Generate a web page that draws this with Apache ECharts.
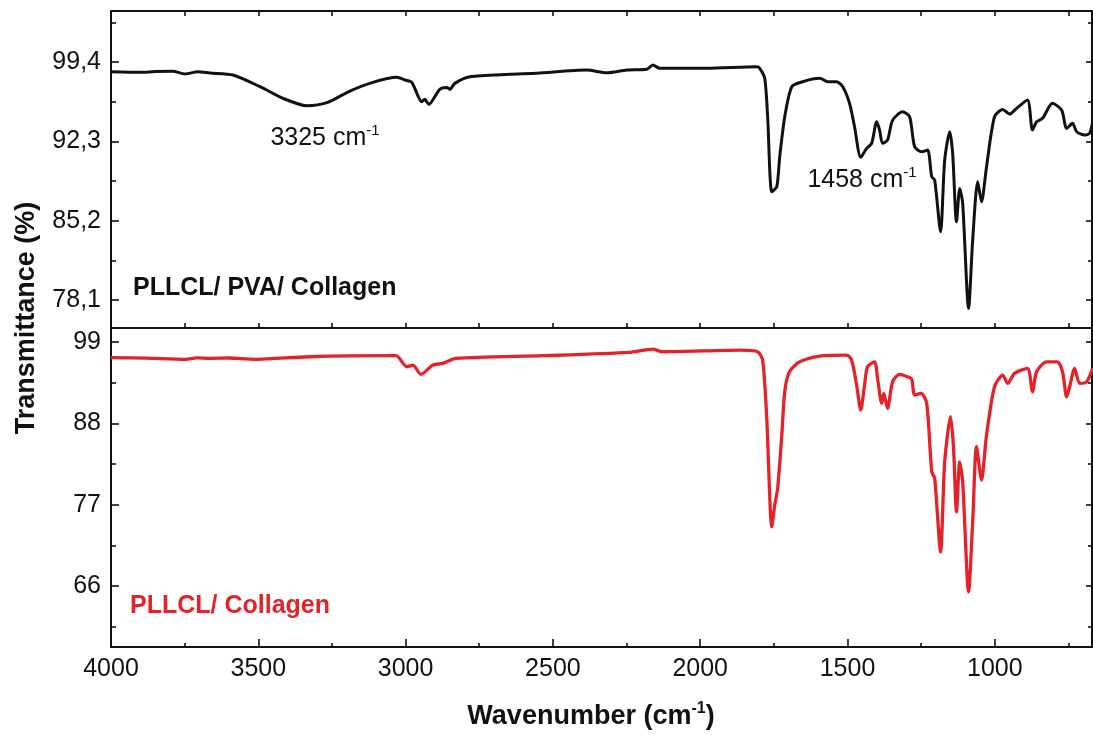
<!DOCTYPE html>
<html><head><meta charset="utf-8">
<script src="https://cdn.jsdelivr.net/npm/echarts@6/dist/echarts.min.js"></script>
<style>html,body{margin:0;padding:0;background:#fff}#c{width:1093px;height:738px}</style>
</head><body><div id="c"></div>
<script>
// PLLCL/ PVA/ Collagen (black)
const wnTop = [4000,3900,3850,3790,3749,3705,3664,3586,3494,3416,3335,3267,3189,3111,3030,3002,2979,2945,2935,2921,2884,2860,2850,2833,2782,2646,2555,2385,2317,2249,2181,2161,2137,2046,1978,1808,1798,1781,1771,1757,1740,1730,1713,1689,1652,1594,1567,1537,1516,1493,1476,1455,1435,1418,1401,1391,1381,1364,1347,1313,1289,1272,1248,1228,1214,1204,1184,1170,1153,1143,1130,1119,1109,1089,1075,1058,1045,1028,1001,973,950,926,889,872,858,838,804,773,756,736,722,695,678,668];
const tTop = [98.53,98.48,98.55,98.57,98.33,98.53,98.42,98.24,97.19,96.15,95.49,95.76,96.80,97.58,98.03,97.79,97.58,95.85,96.06,95.61,96.96,97.13,96.96,97.49,98.08,98.30,98.39,98.68,98.44,98.68,98.75,99.13,98.84,98.84,98.84,98.98,98.84,97.94,94.50,87.79,88.24,90.92,94.50,97.19,97.64,97.94,97.64,97.64,97.19,95.70,93.61,90.87,91.67,92.12,94.05,93.31,92.12,92.42,94.18,94.95,94.50,91.82,91.37,91.52,89.13,88.84,84.21,90.63,93.16,91.22,85.10,88.09,86.75,77.35,83.46,88.68,86.89,90.03,94.50,95.16,94.74,95.25,96.00,93.31,94.05,94.36,95.70,95.10,93.46,93.91,93.16,92.86,93.02,94.0];
// PLLCL/ Collagen (red)
const wnBot = [4000,3880,3746,3708,3664,3600,3511,3328,3033,2996,2975,2948,2907,2874,2829,2534,2242,2161,2130,1859,1805,1788,1774,1757,1747,1737,1723,1713,1697,1662,1594,1503,1486,1469,1455,1442,1432,1408,1398,1384,1377,1364,1347,1323,1296,1282,1272,1250,1231,1214,1204,1184,1170,1150,1140,1130,1119,1109,1089,1075,1062,1045,1028,1001,973,956,933,889,872,858,824,787,770,756,746,729,712,688,668];
const tBot = [96.88,96.82,96.66,96.86,96.80,96.84,96.66,97.01,97.15,95.66,95.89,94.63,95.89,96.11,96.79,97.15,97.60,98.05,97.69,97.92,97.69,96.56,88.67,74.01,76.94,79.20,86.42,92.28,94.98,96.33,97.11,97.24,96.56,93.18,89.80,93.18,95.66,96.33,94.09,90.70,92.06,90.03,93.63,94.63,94.30,94.00,91.83,92.06,90.70,81.45,80.55,70.62,82.80,88.90,84.62,76.04,82.80,80.10,65.21,74.68,84.84,80.33,86.42,92.95,94.53,93.41,94.76,95.44,92.28,94.98,96.33,96.33,94.98,91.60,92.95,95.44,93.41,93.63,95.44];

const xMajor = [1000,1500,2000,2500,3000,3500,4000];
const xMinor = [750,1250,1750,2250,2750,3250,3750];
const xAll = [750,1000,1250,1500,1750,2000,2250,2500,2750,3000,3250,3500,3750,4000];
const yTopMajor = [78.1,85.2,92.3,99.4];
const yTopMinor = [81.65,88.75,95.85,102.95];
const yBotMajor = [66,77,88,99];
const yBotMinor = [60.5,71.5,82.5,93.5];

const X_MIN = 670, X_MAX = 4000;
const TOP_MIN = 75.59, TOP_MAX = 103.97;
const BOT_MIN = 57.75, BOT_MAX = 100.9;

const INK = '#111111';
const RED = '#e4222a';
const FONT = '"Liberation Sans", Arial, sans-serif';
const lineStyle = {color: INK, width: 2};

const fmtX = v => String(Math.round(v));
function xAx(grid, pos, o) {
  return {
    type: 'value', gridIndex: grid, position: pos, inverse: true, min: X_MIN, max: X_MAX,
    axisLine: {show: o.line !== false, onZero: false, lineStyle},
    axisTick: o.ticks ? {show: true, inside: true, length: o.len, customValues: o.ticks, lineStyle: {color: INK, width: 1.6}} : {show: false},
    axisLabel: o.labels ? {show: true, customValues: o.labels, margin: 10, color: '#111', fontSize: 25, fontFamily: FONT, formatter: fmtX} : {show: false},
    splitLine: {show: false}
  };
}
function yAx(grid, pos, min, max, o) {
  return {
    type: 'value', gridIndex: grid, position: pos, min: min, max: max,
    axisLine: {show: o.line !== false, onZero: false, lineStyle},
    axisTick: {show: true, inside: true, length: o.len, customValues: o.ticks, lineStyle: {color: INK, width: 1.6}},
    axisLabel: o.labels ? {show: true, customValues: o.labels, margin: 10, color: '#111', fontSize: 25, fontFamily: FONT, formatter: o.fmt} : {show: false},
    splitLine: {show: false}
  };
}
const fmtTop = v => Number(v).toFixed(1).replace('.', ',');
const fmtBot = v => String(Math.round(v));

const chart = echarts.init(document.getElementById('c'), null, {renderer: 'canvas'});
chart.setOption({
  animation: false,
  backgroundColor: '#fff',
  grid: [
    {left: 111, right: 1, top: 11, height: 317},
    {left: 111, right: 1, top: 328, height: 319}
  ],
  xAxis: [
    xAx(0, 'bottom', {ticks: xAll, len: 5}),
    xAx(0, 'top', {ticks: xAll, len: 5}),
    xAx(1, 'bottom', {ticks: xMajor, len: 8, labels: xMajor}),
    xAx(1, 'bottom', {ticks: xMinor, len: 4, line: false}),
    xAx(1, 'top', {})
  ],
  yAxis: [
    yAx(0, 'left', TOP_MIN, TOP_MAX, {ticks: yTopMajor, len: 8, labels: yTopMajor, fmt: fmtTop}),
    yAx(0, 'left', TOP_MIN, TOP_MAX, {ticks: yTopMinor, len: 5, line: false}),
    yAx(0, 'right', TOP_MIN, TOP_MAX, {ticks: yTopMajor, len: 6}),
    yAx(0, 'right', TOP_MIN, TOP_MAX, {ticks: yTopMinor, len: 4, line: false}),
    yAx(1, 'left', BOT_MIN, BOT_MAX, {ticks: yBotMajor, len: 8, labels: yBotMajor, fmt: fmtBot}),
    yAx(1, 'left', BOT_MIN, BOT_MAX, {ticks: yBotMinor, len: 5, line: false}),
    yAx(1, 'right', BOT_MIN, BOT_MAX, {ticks: yBotMajor, len: 6}),
    yAx(1, 'right', BOT_MIN, BOT_MAX, {ticks: yBotMinor, len: 4, line: false})
  ],
  series: [
    {type: 'line', name: 'PLLCL/ PVA/ Collagen', xAxisIndex: 0, yAxisIndex: 0, symbol: 'none', smooth: 0.25,
     lineStyle: {color: INK, width: 3}, data: wnTop.map((w, i) => [w, tTop[i]])},
    {type: 'line', name: 'PLLCL/ Collagen', xAxisIndex: 2, yAxisIndex: 4, symbol: 'none', smooth: 0.25,
     lineStyle: {color: RED, width: 3.3}, data: wnBot.map((w, i) => [w, tBot[i]])}
  ],
  graphic: [
    {type: 'text', x: 27, y: 318, rotation: Math.PI / 2,
     style: {text: 'Transmittance (%)', font: 'bold 27px ' + FONT, fill: INK, align: 'center', verticalAlign: 'middle', textAlign: 'center', textVerticalAlign: 'middle'}},
    {type: 'text', x: 591, y: 717,
     style: {text: '{a|Wavenumber (cm}{s|-1}{a|)}', align: 'center', verticalAlign: 'middle', textAlign: 'center', textVerticalAlign: 'middle',
       rich: {a: {font: 'bold 27px ' + FONT, fill: INK, lineHeight: 32}, s: {font: 'bold 16px ' + FONT, fill: INK, lineHeight: 16, verticalAlign: 'top'}}}},
    {type: 'text', x: 325, y: 138,
     style: {text: '{a|3325 cm}{s|-1}', align: 'center', verticalAlign: 'middle', textAlign: 'center', textVerticalAlign: 'middle',
       rich: {a: {font: '25px ' + FONT, fill: INK, lineHeight: 29}, s: {font: '15px ' + FONT, fill: INK, lineHeight: 14, verticalAlign: 'top'}}}},
    {type: 'text', x: 862, y: 180,
     style: {text: '{a|1458 cm}{s|-1}', align: 'center', verticalAlign: 'middle', textAlign: 'center', textVerticalAlign: 'middle',
       rich: {a: {font: '25px ' + FONT, fill: INK, lineHeight: 29}, s: {font: '15px ' + FONT, fill: INK, lineHeight: 14, verticalAlign: 'top'}}}},
    {type: 'text', x: 133, y: 288,
     style: {text: 'PLLCL/ PVA/ Collagen', font: 'bold 25px ' + FONT, fill: INK, align: 'left', verticalAlign: 'middle', textAlign: 'left', textVerticalAlign: 'middle'}},
    {type: 'text', x: 130, y: 606,
     style: {text: 'PLLCL/ Collagen', font: 'bold 25px ' + FONT, fill: RED, align: 'left', verticalAlign: 'middle', textAlign: 'left', textVerticalAlign: 'middle'}}
  ]
});
</script>
</body></html>
